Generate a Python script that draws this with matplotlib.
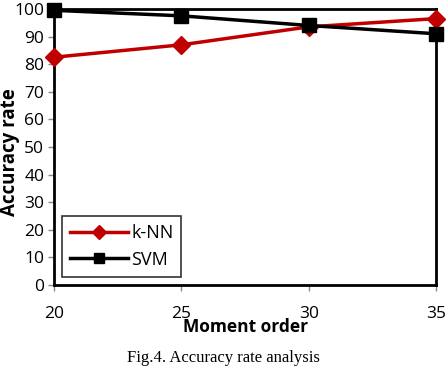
import matplotlib
matplotlib.use("Agg")
import matplotlib.pyplot as plt

moment_order = [20, 25, 30, 35]
knn = [82.5, 87, 93.5, 96.5]
svm = [99.5, 97.5, 94, 91]
y_ticks = list(range(0, 101, 10))

plt.rcParams['font.family'] = ['Open Sans', 'DejaVu Sans']

fig = plt.figure(figsize=(4.46, 3.72), dpi=100)
ax = fig.add_axes([0.121, 0.234, 0.857, 0.742])

ax.plot(moment_order, knn, color='#c00000', lw=2.5, marker='D', ms=9,
        markerfacecolor='#c00000', markeredgecolor='#c00000', label='k-NN', clip_on=False, zorder=3)
ax.plot(moment_order, svm, color='black', lw=2.5, marker='s', ms=10,
        label='SVM', clip_on=False, zorder=4)

ax.set_xlim(20, 35)
ax.set_ylim(0, 100)
ax.set_xticks(moment_order)
ax.set_yticks(y_ticks)
ax.tick_params(axis='both', labelsize=12.5, direction='out', length=4, width=1, color='#888888')
ax.tick_params(axis='x', pad=11)
ax.tick_params(axis='y', pad=3)
for s in ax.spines.values():
    s.set_linewidth(2)
    s.set_color('black')

ax.set_xlabel('Moment order', fontsize=12.5, fontweight='bold', labelpad=-3)
fig.text(10 / 446, 1 - 152 / 372, 'Accuracy rate', rotation=90, ha='center', va='center',
         fontsize=13.5, fontweight='bold')

leg = ax.legend(loc='lower left', bbox_to_anchor=(0.02, 0.03), fontsize=13, frameon=True,
                fancybox=False, edgecolor='black', handlelength=3.2, borderpad=0.45,
                labelspacing=0.45, handletextpad=0.2, markerscale=0.75, borderaxespad=0)
leg.get_frame().set_linewidth(1.2)

fig.text(0.5, 1 - 358 / 372, 'Fig.4. Accuracy rate analysis', ha='center', va='center',
         fontsize=12, family='Liberation Serif')

fig.savefig('out.png', dpi=100)
